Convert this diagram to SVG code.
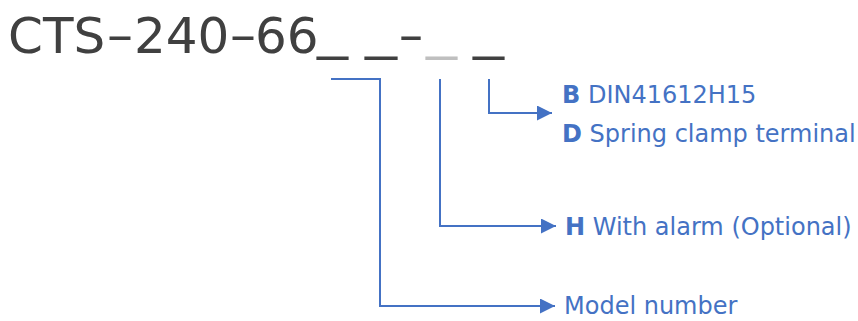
<svg xmlns="http://www.w3.org/2000/svg" width="858" height="321" viewBox="0 0 858 321">
<style>
.title{font-family:"DejaVu Sans","Verdana",sans-serif;font-size:50px;fill:#404040}
.lbl{font-family:"DejaVu Sans","Verdana",sans-serif;font-size:24px;fill:#4472C4}
.b{font-weight:bold}
.conn{fill:none;stroke:#4472C4;stroke-width:2}
</style>
<defs>
<marker id="ah" viewBox="0 0 10 10" refX="10" refY="5" markerWidth="16" markerHeight="15" markerUnits="userSpaceOnUse" orient="auto">
<path d="M0,0 L10,5 L0,10 z" fill="#4472C4"/>
</marker>
</defs>
<rect width="858" height="321" fill="#ffffff"/>
<g id="title">
<text class="title" x="8" y="53">CTS</text>
<text class="title" x="107" y="52" textLength="26" lengthAdjust="spacingAndGlyphs">–</text>
<text class="title" x="134" y="53">240</text>
<text class="title" x="230" y="52" textLength="26" lengthAdjust="spacingAndGlyphs">–</text>
<text class="title" x="255" y="53">66</text>
<text class="title" x="317" y="48" textLength="31" lengthAdjust="spacingAndGlyphs">_</text>
<text class="title" x="365" y="48" textLength="32" lengthAdjust="spacingAndGlyphs">_</text>
<text class="title" x="399" y="52" textLength="24" lengthAdjust="spacingAndGlyphs">–</text>
<text class="title" x="426" y="48" textLength="31" lengthAdjust="spacingAndGlyphs" style="fill:#BFBFBF">_</text>
<text class="title" x="473" y="48" textLength="31" lengthAdjust="spacingAndGlyphs">_</text>
</g>
<g id="connectors">
<polyline class="conn" points="331,79 380,79 380,306 555,306" marker-end="url(#ah)"/>
<polyline class="conn" points="440,79 440,226 556,226" marker-end="url(#ah)"/>
<polyline class="conn" points="489,79 489,113 552,113" marker-end="url(#ah)"/>
</g>
<g id="node-b">
<text class="lbl" x="562" y="103"><tspan class="b">B</tspan> DIN41612H15</text>
</g>
<g id="node-d">
<text class="lbl" x="562" y="142"><tspan class="b">D</tspan> Spring clamp terminal</text>
</g>
<g id="node-h">
<text class="lbl" x="565" y="235"><tspan class="b">H</tspan> With alarm (Optional)</text>
</g>
<g id="node-model">
<text class="lbl" x="564" y="314">Model number</text>
</g>
</svg>
